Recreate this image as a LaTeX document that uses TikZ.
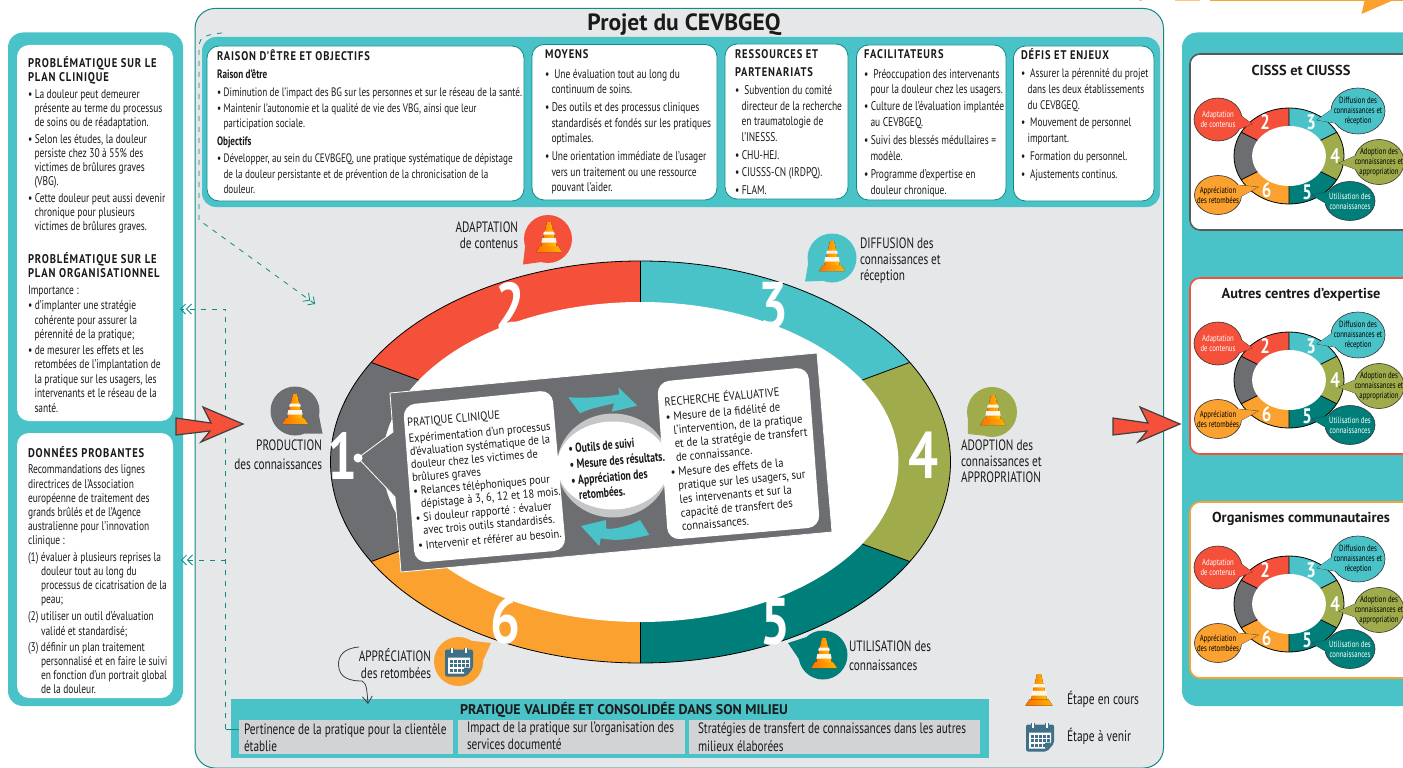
\documentclass[tikz,border=0pt]{standalone}
\usepackage{fontspec}
\setmainfont{PT Sans}[FakeStretch=0.75]
\newfontfamily\widef{PT Sans}
\newfontfamily\midf{PT Sans}[FakeStretch=0.89]
\newfontfamily\numf{PT Sans}[FakeStretch=0.8]
\newfontfamily\spacedf{PT Sans}[FakeStretch=0.84,LetterSpace=7]
\usetikzlibrary{arrows.meta}
\definecolor{cred}{HTML}{F4503A}
\definecolor{cteal}{HTML}{4AC3C8}
\definecolor{colive}{HTML}{A0AC4B}
\definecolor{cdark}{HTML}{007F7A}
\definecolor{corange}{HTML}{FBA12F}
\definecolor{cgray}{HTML}{6D6E71}
\definecolor{cbg}{HTML}{E6E7E8}
\definecolor{cbox}{HTML}{D1D3D4}
\definecolor{cline}{HTML}{0E8A87}
\definecolor{ccal}{HTML}{3F7088}
\definecolor{ctxt}{HTML}{1A1A1A}
\newcommand\fs[2]{\fontsize{#1}{#2}\selectfont}
\newcommand\hd{\spacedf\bfseries}
\newcommand\I{\hspace*{6.5pt}}
\tikzset{
 txt/.style={inner sep=0pt,outer sep=0pt,align=left,anchor=north west,text=ctxt},
 rtxt/.style={inner sep=0pt,outer sep=0pt,align=right,anchor=north east,text=ctxt},
 ctxtn/.style={inner sep=0pt,outer sep=0pt,align=center,anchor=center,text=ctxt},
 whitebox/.style={fill=white,draw=cline,line width=0.8pt,rounded corners=12pt},
 plainbox/.style={fill=white,rounded corners=12pt},
 dashline/.style={draw=cline,line width=0.8pt,dash pattern=on 5pt off 6pt},
 biga/.style={fill=cred,draw=black!75,line width=1.2pt,line join=miter},
 barbs/.style={-{Straight Barb[length=5pt,width=10pt]Straight Barb[length=5pt,width=10pt]}},
 bignum/.style={inner sep=0pt,text=white,font=\numf\bfseries\fs{66}{66}},
 mininum/.style={inner sep=0pt,text=white,font=\numf\bfseries\fs{21}{21}},
 bubtxt/.style={inner sep=0pt,align=center,font=\fs{9}{10}},
}
\newcommand\myring[6]{%
 \begin{scope}[shift={(#1,#2)},xscale=#3,yscale=#4]
  \begin{scope}
   \clip (0,0) circle[radius=1];
   \fill[cgray] (0,0)--(-2,-1.14)--(-2,1.14)--cycle;
   \fill[cred] (0,0)--(-2,-1.14)--(-2,-3)--(0,-3)--cycle;
   \fill[cteal] (0,0)--(0,-3)--(2,-3)--(2,-1.14)--cycle;
   \fill[colive] (0,0)--(2,-1.14)--(2,1.14)--cycle;
   \fill[cdark] (0,0)--(2,1.14)--(2,3)--(0,3)--cycle;
   \fill[corange] (0,0)--(0,3)--(-2,3)--(-2,1.14)--cycle;
   \draw[black,line width=0.8pt] (-2,-1.14)--(2,1.14) (-2,1.14)--(2,-1.14) (0,-3)--(0,3);
  \end{scope}
  \draw[black,line width=0.8pt] (0,0) circle[radius=1];
  \fill[white] (0,0) ellipse[x radius=#5,y radius=#6];
 \end{scope}}
\newcommand\mycone[3]{%
 \begin{scope}[shift={(#1,#2)},scale=#3]
  \fill[left color=orange!95!red,right color=orange!45!yellow] (-2,-17)--(2,-17)--(8,9)--(-8,9)--cycle;
  \fill[white!92!orange] (-5,-7.5)--(5,-7.5)--(5.8,-4.5)--(-5.8,-4.5)--cycle;
  \fill[white!92!orange] (-6.7,-1)--(6.7,-1)--(7.6,3.5)--(-7.6,3.5)--cycle;
  \fill[left color=orange!90!red,right color=orange!60!yellow] (-9,7)--(9,7)--(13,13)--(-13,13)--cycle;
 \end{scope}}
\newcommand\mycal[3]{%
 \begin{scope}[shift={(#1,#2)},scale=#3]
  \fill[ccal,rounded corners=2pt] (-14,-12)--(14,-12)--(14,7)--(7,15)--(-14,15)--cycle;
  \fill[white] (-11,-4)--(11,-4)--(11,6)--(5,12)--(-11,12)--cycle;
  \foreach \xx in {-9,-5,-1,3,7}{\foreach \yy in {-2,2.5,7}{\fill[ccal] (\xx,\yy) rectangle ++(3,3);}}
  \fill[ccal] (11,6)--(5,12)--(5,6)--cycle;
  \foreach \xx in {-7,7}{\fill[ccal] (\xx-2,-14) rectangle (\xx+2,-8);\fill[white] (\xx-0.7,-14) rectangle (\xx+0.7,-9);}
 \end{scope}}
\newcommand\mysp[6]{%
 \pgfmathsetmacro\bang{atan2(#5-#2,#4-#1)}%
 \fill[#6] (#1,#2) circle[radius=#3];
 \fill[#6] ({#1+#3*cos(\bang+28)},{#2+#3*sin(\bang+28)})--(#4,#5)--({#1+#3*cos(\bang-28)},{#2+#3*sin(\bang-28)})--cycle;}
\newcommand\mybub[9]{%
 \pgfmathsetmacro\bang{atan2((#7-#3)/#5,(#6-#2)/#4)}%
 \draw[black!80,line width=0.6pt,fill=#8] ({#2+#4*cos(\bang+17)},{#3+#5*sin(\bang+17)})--(#6,#7)--({#2+#4*cos(\bang-17)},{#3+#5*sin(\bang-17)});
 \draw[black!80,line width=0.6pt,fill=#8] (#2,#3) ellipse[x radius=#4,y radius=#5];
 \fill[#8] (#2,#3)--({#2+#4*cos(\bang+17)},{#3+#5*sin(\bang+17)})--(#6,#7)--({#2+#4*cos(\bang-17)},{#3+#5*sin(\bang-17)})--cycle;
 \node[bubtxt] (#1) at (#2,#3) {#9};}
\newcommand\miniset[4]{%
 \begin{scope}[shift={(0,#2)}]
  \draw[fill=white,draw=#3,line width=1.6pt,rounded corners=10pt] (1190,54) rectangle (1420,230);
  \node[ctxtn,font=\widef\bfseries\fs{14.4}{16}] (#1title) at (1301,70.5) {#4};
  \myring{1289}{156}{55}{48}{0.67}{0.625}
  \node[mininum] (#1n2) at (1265,122) {2};
  \node[mininum] (#1n3) at (1311,122) {3};
  \node[mininum] (#1n4) at (1335,156) {4};
  \node[mininum] (#1n5) at (1307,192) {5};
  \node[mininum] (#1n6) at (1266.5,190) {6};
  \mybub{#1a}{1218}{119.5}{24}{21.5}{1252}{124}{cred}{\color{white}Adaptation\\\color{white}de contenus}
  \mybub{#1b}{1358}{111}{27}{23}{1317}{120}{cteal}{Diffusion des\\connaissances et\\réception}
  \mybub{#1c}{1379}{162}{25}{22.5}{1339}{163}{colive}{Adoption des\\connaissances et\\appropriation}
  \mybub{#1d}{1350}{201}{25}{19.5}{1312}{195}{cdark}{\color{white}Utilisation des\\\color{white}connaissances}
  \mybub{#1e}{1218}{195}{23.5}{19.5}{1258}{187}{corange}{Appréciation\\des retombées}
 \end{scope}}
\begin{document}
\begin{tikzpicture}[x=1pt,y=-1pt]
\clip (0,0) rectangle (1403,768);
\fill[white] (0,0) rectangle (1403,768);
% top-right fragment
\fill[corange] (1210,-1) rectangle (1403,1);
\fill[corange] (1365,-1)--(1396,-1)--(1361.5,14)--cycle;
\fill[corange!60] (1175,-1) rectangle (1200,1.2);
\fill[corange!60] (1139,-1) rectangle (1142,1.2);
% panels
\draw[fill=cbg,draw=cline,line width=1pt,rounded corners=20pt] (195,8.5) rectangle (1163.5,768);
\fill[cteal,rounded corners=15pt] (8,32.5) rectangle (183,706);
\fill[cteal,rounded corners=15pt] (1182,32.5) rectangle (1440,706);
\fill[cteal,rounded corners=14pt] (202,37) rectangle (1160,207);
\fill[plainbox] (17,45) rectangle (173,421);
\fill[plainbox] (17,433) rectangle (173,698);
\draw[whitebox] (207,46) rectangle (524,201);
\draw[whitebox] (532,44.5) rectangle (717,200);
\draw[whitebox] (725,44) rectangle (848,199);
\draw[whitebox] (856.5,45) rectangle (1006,200);
\draw[whitebox] (1013.5,46) rectangle (1154,201);
% title
\node[ctxtn,font=\widef\bfseries\fs{23.5}{26}] (title) at (684,25) {Projet du CEVBGEQ};
% left panel texts
\node[txt,font=\hd\fs{12.6}{14.2}] (h1) at (28,56.5) {PROBLÉMATIQUE SUR LE\\PLAN CLINIQUE};
\node[txt,font=\fs{12.6}{14}] (l1) at (28,90) {•\ La douleur peut demeurer\\\I présente au terme du processus\\\I de soins ou de réadaptation.\\[3pt]
• Selon les études, la douleur\\\I persiste chez 30 à 55\% des\\\I victimes de brûlures graves\\\I (VBG).\\[3pt]
• Cette douleur peut aussi devenir\\\I chronique pour plusieurs\\\I victimes de brûlures graves.};
\node[txt,font=\hd\fs{12.6}{14.2}] (h2) at (28,252.5) {PROBLÉMATIQUE SUR LE\\PLAN ORGANISATIONNEL};
\node[txt,font=\fs{12.6}{14.4}] (l2) at (28,286) {Importance :\\[0.5pt]
•\ d’implanter une stratégie\\\I cohérente pour assurer la\\\I pérennité de la pratique;\\[1.5pt]
• de mesurer les effets et les\\\I retombées de l’implantation de\\\I la pratique sur les usagers, les\\\I intervenants et le réseau de la\\\I santé.};
\node[txt,font=\hd\fs{12.6}{14}] (h3) at (28,447) {DONNÉES PROBANTES};
\node[txt,font=\fs{12.6}{14.1}] (l3) at (28,465) {Recommandations des lignes\\directrices de l’Association\\européenne de traitement des\\grands brûlés et de l’Agence\\australienne pour l’innovation\\clinique :\\[3pt]
(1) évaluer à plusieurs reprises la\\\hspace*{13pt}douleur tout au long du\\\hspace*{13pt}processus de cicatrisation de la\\\hspace*{13pt}peau;\\[3pt]
(2) utiliser un outil d’évaluation\\\hspace*{13pt}validé et standardisé;\\[2pt]
(3) définir un plan traitement\\\hspace*{13pt}personnalisé et en faire le suivi\\\hspace*{13pt}en fonction d’un portrait global\\\hspace*{13pt}de la douleur.};
% top boxes
\node[txt,font=\hd\fs{12.5}{14}] (t1h) at (217,49.5) {RAISON D’ÊTRE ET OBJECTIFS};
\node[txt,font=\fs{12.2}{15.3}] (t1) at (217,70) {\textbf{Raison d’être}\\[2.5pt]
• Diminution de l’impact des BG sur les personnes et sur le réseau de la santé.\\
• Maintenir l’autonomie et la qualité de vie des VBG, ainsi que leur\\\I participation sociale.\\[2.5pt]
\textbf{Objectifs}\\[2.5pt]
• Développer, au sein du CEVBGEQ, une pratique systématique de dépistage\\\I de la douleur persistante et de prévention de la chronicisation de la\\\I douleur.};
\node[txt,font=\hd\fs{12.5}{14}] (t2h) at (545,49.5) {MOYENS};
\node[txt,font=\fs{12.6}{15.7}] (t2) at (545,69) {•\ \ Une évaluation tout au long du\\\I continuum de soins.\\[2pt]
• Des outils et des processus cliniques\\\I standardisés et fondés sur les pratiques\\\I optimales.\\[2pt]
• Une orientation immédiate de l’usager\\\I vers un traitement ou une ressource\\\I pouvant l’aider.};
\node[txt,font=\hd\fs{12.5}{18}] (t3h) at (735,49.5) {RESSOURCES ET\\PARTENARIATS};
\node[txt,font=\fs{12.6}{15.7}] (t3) at (735,85.5) {•\ \ Subvention du comité\\\I directeur de la recherche\\\I en traumatologie de\\\I l’INESSS.\\[2pt]
• CHU-HEJ.\\[1pt]
• CIUSSS-CN (IRDPQ).\\[3pt]
• FLAM.};
\node[txt,font=\hd\fs{12.5}{14}] (t4h) at (864,49.5) {FACILITATEURS};
\node[txt,font=\fs{12.6}{15.9}] (t4) at (864,69) {•\ \ Préoccupation des intervenants\\\I pour la douleur chez les usagers.\\[1pt]
• Culture de l’évaluation implantée\\\I au CEVBGEQ.\\[2pt]
• Suivi des blessés médullaires =\\\I modèle.\\[2pt]
• Programme d’expertise en\\\I douleur chronique.};
\node[txt,font=\hd\fs{12.5}{14}] (t5h) at (1021,49) {DÉFIS ET ENJEUX};
\node[txt,font=\fs{12.4}{16}] (t5) at (1021,69) {•\ \ Assurer la pérennité du projet\\\I dans les deux établissements\\\I du CEVBGEQ.\\[1pt]
•\ \ Mouvement de personnel\\\I important.\\[2pt]
•\ \ Formation du personnel.\\[2pt]
•\ \ Ajustements  continus.};
% ring
\myring{640.5}{462}{310}{201}{0.832}{0.796}
\node[bignum] (n2) at (510,306) {2};
\node[bignum] (n3) at (773,306) {3};
\node[bignum] (n4) at (923,455) {4};
\node[bignum] (n5) at (775,622) {5};
\node[bignum] (n6) at (505,620) {6};
\node[bignum] (n1) at (342,455.5) {1};
% central gray card
\draw[fill=cgray,draw=white,line width=0.8pt] (390,393)--(817,353)--(832,532)--(401,572)--(395,497)--(358,458)--(393,432)--cycle;
\fill[white] (358,458) circle[radius=4.5];
\fill[cbox!85!gray] (613,465.5) ellipse[x radius=56,y radius=52];
\fill[white] (613,465.5) ellipse[x radius=56,y radius=44];
\fill[plainbox] (403,405)--(552,390)--(566,550)--(415,563)--cycle;
\fill[plainbox] (657,382)--(808,367)--(820,527)--(668,540)--cycle;
\node[txt,rotate=5,font=\midf\fs{11.8}{13}] (pc) at (407,418.5) {PRATIQUE CLINIQUE\\[3pt]
Expérimentation d’un processus\\d’évaluation systématique de la\\douleur chez les victimes de\\brûlures graves\\[0.5pt]
• Relances téléphoniques pour\\\I dépistage à 3, 6, 12 et 18 mois.\\[1pt]
• Si douleur rapporté : évaluer\\\I avec trois outils standardisés.\\[2pt]
• Intervenir et référer au besoin.};
\node[txt,rotate=5,font=\midf\fs{12}{13.7}] (re) at (664,396) {RECHERCHE ÉVALUATIVE\\[1pt]
• Mesure de la fidélité de\\\I l’intervention, de la pratique\\\I et de la stratégie de transfert\\\I de connaissance.\\[1pt]
• Mesure des effets de la\\\I pratique sur les usagers, sur\\\I les intervenants et sur la\\\I capacité de transfert des\\\I connaissances.};
\node[txt,rotate=5,font=\bfseries\fs{13}{15}] (mid) at (568,444) {• Outils de suivi\\[1pt]
• Mesure des résultats.\\[1pt]
• Appréciation des\\\I retombées.};
\fill[cteal] (568.3,397.3) .. controls (585,398.3) and (603,397.3) .. (619.3,394.3) -- (618.3,387.3) -- (637.3,405.7) -- (611.7,411.7) -- (614,403.3) .. controls (603,406) and (590,408.3) .. (580,413.3) -- cycle;
\fill[cteal] (640,520) .. controls (625,528) and (608,530) .. (606,528.3) -- (606,520) -- (581,526) -- (599.3,546) -- (600.7,538.3) .. controls (620,542) and (635,538) .. (649.3,535) -- cycle;
% side labels
\node[rtxt,font=\fs{15}{16.5}] (ladapt) at (518,221.5) {ADAPTATION\\de contenus};
\node[txt,font=\fs{15}{16}] (ldiff) at (860,238) {DIFFUSION des\\connaissances et\\réception};
\node[txt,font=\fs{15}{16}] (ladop) at (961,440) {ADOPTION des\\connaissances et\\APPROPRIATION};
\node[rtxt,font=\fs{15}{19}] (lprod) at (322,440) {PRODUCTION\\des connaissances};
\node[txt,font=\fs{15}{19}] (lutil) at (849,641) {UTILISATION des\\connaissances};
\node[rtxt,font=\fs{15}{17.5}] (lappr) at (431,648) {APPRÉCIATION\\des retombées};
% speech bubbles
\mysp{548}{239}{24}{523}{264.5}{cred}
\mysp{832}{258}{24.5}{805}{281.5}{cteal}
\mysp{992}{412}{25}{968}{434}{colive}
\mysp{295}{411}{24.5}{322.5}{433.5}{cgray}
\mysp{823}{655}{24.5}{788}{643}{cdark}
\mysp{458.5}{661.5}{24.5}{491}{643}{corange}
\mycone{549}{239}{1}
\mycone{832}{258}{1}
\mycone{993}{412}{1}
\mycone{295}{411}{1}
\mycone{824}{655}{1}
\mycal{459}{661.5}{1}
% bottom panel
\fill[cteal] (231,699) rectangle (989,758);
\node[ctxtn,font=\widef\bfseries\fs{14}{16}] (bt) at (624,709.5) {PRATIQUE VALIDÉE ET CONSOLIDÉE DANS SON MILIEU};
\node[fill=cbox,minimum width=213.6pt,minimum height=34pt,inner sep=0pt,anchor=north west] (b1) at (239,720) {};
\node[fill=cbox,minimum width=227pt,minimum height=34pt,inner sep=0pt,anchor=north west] (b2) at (458,720) {};
\node[fill=cbox,minimum width=291pt,minimum height=34pt,inner sep=0pt,anchor=north west] (b3) at (689,720) {};
\node[txt,font=\fs{15}{17.5}] (b1t) at (244,723.5) {Pertinence de la pratique pour la clientèle\\établie};
\node[txt,font=\fs{15}{17.5}] (b2t) at (467,721.5) {Impact de la pratique sur l’organisation des\\services documenté};
\node[txt,font=\fs{15}{17.5}] (b3t) at (698,723) {Stratégies de transfert de connaissances dans les autres\\milieux élaborées};
% legend
\mycone{1039}{692}{1.05}
\mycal{1040}{736.5}{1}
\node[txt,font=\fs{15.3}{16}] (le1) at (1067,691) {Étape en cours};
\node[txt,font=\fs{15.3}{16}] (le2) at (1067,728) {Étape à venir};
% dashed connectors
\coordinate (d1a) at (222,33);
\coordinate (d1b) at (199,45);
\coordinate (d1c) at (199,220);
\coordinate (d1d) at (315,304);
\draw[dashline,barbs] (d1a) .. controls (207,34) and (199,38) .. (d1b) -- (d1c) -- (d1d);
\coordinate (d2a) at (225.6,309);
\coordinate (d2b) at (225.6,729);
\coordinate (d2c) at (180,309);
\coordinate (d2d) at (225.6,560);
\coordinate (d2e) at (181,560);
\draw[dashline,barbs] (d2b) -- (d2a) -- (d2c);
\draw[dashline,barbs] (d2d) -- (d2e);
\draw[draw=cline,line width=0.8pt] (d2b) -- (b1.west |- d2b);
% curved pointer
\coordinate (cv1) at (359,647);
\coordinate (cv2) at (368,704);
\draw[black!75,line width=0.8pt,-{Straight Barb[length=7pt,width=10pt]}] (cv1) .. controls (345,648) and (338,655) .. (338.5,665) .. controls (339,678) and (350,681) .. (362,681) .. controls (367,683) and (367,692) .. (cv2);
% big arrows
\draw[biga] (176,418)--(211,423)--(203,407)--(243,424)--(201,442)--(210,431)--(176,435)--cycle;
\draw[biga] (1113,418)--(1148,423)--(1140,407)--(1180,424)--(1138,442)--(1147,431)--(1113,435)--cycle;
% right panel boxes
\miniset{ma}{0}{black!65}{CISSS et CIUSSS}
\miniset{mb}{224}{cred}{Autres centres d’expertise}
\miniset{mc}{448}{corange}{Organismes communautaires}
\end{tikzpicture}
\end{document}
